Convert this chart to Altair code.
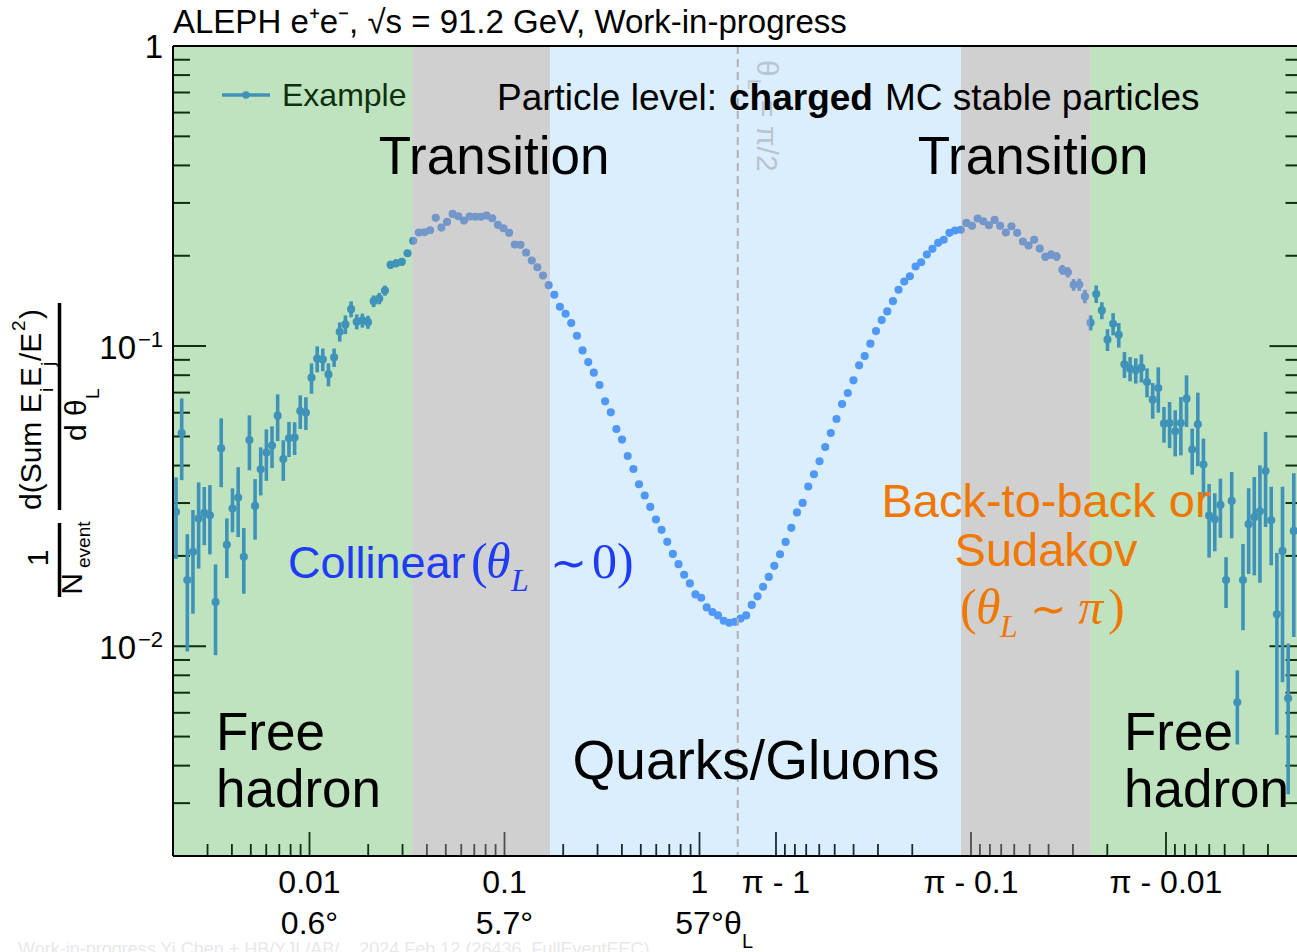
import altair as alt
import numpy as np
import pandas as pd

# ---------------- values ----------------
# centres of the 100 log-spaced angle bins (rad); the right half uses the same
# numbers as (pi - theta)
bin_theta = [
    0.002068, 0.002211, 0.002363, 0.002526, 0.002700, 0.002886, 0.003085, 0.003298, 0.003525, 0.003768,
    0.004028, 0.004307, 0.004603, 0.004920, 0.005259, 0.005621, 0.006009, 0.006424, 0.006866, 0.007339,
    0.007846, 0.008389, 0.008966, 0.009583, 0.01024, 0.01095, 0.01170, 0.01251, 0.01337, 0.01429,
    0.01528, 0.01634, 0.01746, 0.01867, 0.01995, 0.02133, 0.02279, 0.02437, 0.02604, 0.02783,
    0.02976, 0.03183, 0.03401, 0.03637, 0.03886, 0.04155, 0.04439, 0.04747, 0.05072, 0.05421,
    0.05797, 0.06200, 0.06625, 0.07084, 0.07569, 0.08093, 0.08646, 0.09246, 0.09879, 0.1056,
    0.1129, 0.1208, 0.1290, 0.1380, 0.1474, 0.1576, 0.1684, 0.1801, 0.1924, 0.2057,
    0.2199, 0.2353, 0.2513, 0.2688, 0.2871, 0.3070, 0.3280, 0.3508, 0.3748, 0.4006,
    0.4283, 0.4583, 0.4895, 0.5236, 0.5592, 0.5980, 0.6389, 0.6833, 0.7300, 0.7803,
    0.8342, 0.8927, 0.9534, 1.020, 1.089, 1.165, 1.244, 1.331, 1.422, 1.520,
]

# theta side (small angles)
left_y = [
    0.02803, 0.05135, 0.01661, 0.02063, 0.02665, 0.02782, 0.02733, 0.01403, 0.04566, 0.02177,
    0.02877, 0.03130, 0.01986, 0.04867, 0.02935, 0.03888, 0.04418, 0.04662, 0.05866, 0.04207,
    0.04930, 0.04957, 0.06076, 0.06003, 0.07849, 0.09081, 0.09031, 0.08050, 0.09171, 0.1117,
    0.1181, 0.1328, 0.1206, 0.1218, 0.1202, 0.1412, 0.1441, 0.1532, 0.1866, 0.1889,
    0.1909, 0.2039, 0.2243, 0.2390, 0.2396, 0.2432, 0.2675, 0.2483, 0.2594, 0.2758,
    0.2708, 0.2620, 0.2702, 0.2698, 0.2698, 0.2722, 0.2667, 0.2535, 0.2470, 0.2385,
    0.2180, 0.2175, 0.2050, 0.1928, 0.1832, 0.1719, 0.1596, 0.1483, 0.1352, 0.1282,
    0.1193, 0.1083, 0.09676, 0.08848, 0.08156, 0.07418, 0.06546, 0.06017, 0.05294, 0.04882,
    0.04304, 0.03896, 0.03466, 0.03178, 0.02912, 0.02645, 0.02442, 0.02227, 0.02031, 0.01877,
    0.01730, 0.01619, 0.01488, 0.01450, 0.01347, 0.01300, 0.01267, 0.01216, 0.01197, 0.01206,
]
left_err = [
    0.0085, 0.0156, 0.0070, 0.0078, 0.0085, 0.0061, 0.0071, 0.0047, 0.0118, 0.0049,
    0.0048, 0.0082, 0.0049, 0.0101, 0.0067, 0.0071, 0.0086, 0.0074, 0.0104, 0.0065,
    0.0066, 0.0062, 0.0078, 0.0075, 0.0091, 0.0090, 0.0079, 0.0071, 0.0065, 0.0082,
    0.0085, 0.0081, 0.0069, 0.0065, 0.0060, 0.0063, 0.0063, 0.0060, 0.0058, 0.0058,
    0.0058, 0.0050, 0.0045, 0.0045, 0.0045, 0.0045, 0.0045, 0.0045, 0.0042, 0.0042,
    0.0040, 0.0040, 0.0038, 0.0038, 0.0036, 0.0036, 0.0035, 0.0034, 0.0032, 0.0030,
    0.0012, 0.0011, 0.0010, 0.0009, 0.0009, 0.0008, 0.0008, 0.0007, 0.0007, 0.0006,
    0.0005, 0.0005, 0.0004, 0.0004, 0.0004, 0.0003, 0.0003, 0.0003, 0.0003, 0.0002,
    0.0002, 0.0002, 0.0002, 0.0002, 0.0002, 0.0002, 0.0002, 0.0002, 0.0002, 0.0002,
    0.0002, 0.0002, 0.0002, 0.0002, 0.0002, 0.0002, 0.0002, 0.0002, 0.0002, 0.0002,
]

# pi - theta side (back-to-back); first bin lies outside the picture
right_y = [
    None, 0.02423, 0.006709, 0.02078, 0.01277, 0.02630, 0.03837, 0.02817, 0.02692, 0.02551,
    0.01661, 0.006507, 0.03049, 0.01661, 0.02957, 0.02651, 0.02723, 0.04030, 0.05488, 0.04520,
    0.06683, 0.05543, 0.05201, 0.05543, 0.05517, 0.07249, 0.06631, 0.07589, 0.08476, 0.08303,
    0.08412, 0.08693, 0.1091, 0.1187, 0.1051, 0.1315, 0.1492, 0.1197, 0.1464, 0.1603,
    0.1601, 0.1763, 0.1796, 0.1988, 0.2019, 0.1984, 0.2114, 0.2261, 0.2163, 0.2231,
    0.2385, 0.2508, 0.2390, 0.2516, 0.2634, 0.2527, 0.2606, 0.2661, 0.2516, 0.2574,
    0.2441, 0.2427, 0.2385, 0.2261, 0.2209, 0.2109, 0.2019, 0.1903, 0.1842, 0.1710,
    0.1642, 0.1541, 0.1412, 0.1305, 0.1221, 0.1122, 0.1019, 0.09264, 0.08627, 0.07689,
    0.06976, 0.06412, 0.05716, 0.05135, 0.04612, 0.04133, 0.03741, 0.03405, 0.03003, 0.02792,
    0.02480, 0.02226, 0.02026, 0.01853, 0.01702, 0.01578, 0.01466, 0.01373, 0.01267, 0.01236,
]
right_err = [
    None, 0.0135, 0.0035, 0.0132, 0.0077, 0.0077, 0.0134, 0.0119, 0.0097, 0.0081,
    0.0053, 0.0018, 0.0076, 0.0032, 0.0066, 0.0058, 0.0075, 0.0089, 0.0151, 0.0079,
    0.0131, 0.0122, 0.0091, 0.0097, 0.0075, 0.0125, 0.0090, 0.0084, 0.0091, 0.0080,
    0.0078, 0.0086, 0.0102, 0.0101, 0.0088, 0.0086, 0.0100, 0.0069, 0.0075, 0.0075,
    0.0072, 0.0070, 0.0068, 0.0066, 0.0064, 0.0062, 0.0060, 0.0058, 0.0056, 0.0054,
    0.0052, 0.0050, 0.0048, 0.0046, 0.0044, 0.0042, 0.0040, 0.0038, 0.0036, 0.0034,
    0.0012, 0.0011, 0.0010, 0.0009, 0.0009, 0.0008, 0.0008, 0.0007, 0.0007, 0.0006,
    0.0005, 0.0005, 0.0004, 0.0004, 0.0004, 0.0003, 0.0003, 0.0003, 0.0003, 0.0002,
    0.0002, 0.0002, 0.0002, 0.0002, 0.0002, 0.0002, 0.0002, 0.0002, 0.0002, 0.0002,
    0.0002, 0.0002, 0.0002, 0.0002, 0.0002, 0.0002, 0.0002, 0.0002, 0.0002, 0.0002,
]

# axis ticks and labels
y_major = [0.01, 0.1, 1.0]
y_minor = [0.002, 0.003, 0.004, 0.005, 0.006, 0.007, 0.008, 0.009,
           0.02, 0.03, 0.04, 0.05, 0.06, 0.07, 0.08, 0.09,
           0.2, 0.3, 0.4, 0.5, 0.6, 0.7, 0.8, 0.9]
x_major_left = [0.01, 0.1, 1.0]                 # theta
x_minor_left = [0.003, 0.004, 0.005, 0.006, 0.007, 0.008, 0.009,
                0.02, 0.03, 0.04, 0.05, 0.06, 0.07, 0.08, 0.09,
                0.2, 0.3, 0.4, 0.5, 0.6, 0.7, 0.8, 0.9]
x_major_right = [1.0, 0.1, 0.01]                # pi - theta
x_minor_right = [0.9, 0.8, 0.7, 0.6, 0.5, 0.4, 0.3, 0.2,
                 0.09, 0.08, 0.07, 0.06, 0.05, 0.04, 0.03, 0.02,
                 0.009, 0.008, 0.007, 0.006, 0.005, 0.004, 0.003]
x_label_left = ["0.01", "0.1", "1"]
x_label_right = ["π - 1", "π - 0.1", "π - 0.01"]
deg_labels = ["0.6°", "5.7°", "57°"]
y_label_value = [0.1, 0.01]
y_label_exp = ["−1", "−2"]

# shaded regions, edges in theta (rad)
band_region = ["free", "transition", "qg", "transition", "free"]
band_from = [0.002, 0.0336, 0.171, 3.0291, 3.1171]
band_to = [0.0336, 0.171, 3.0291, 3.1171, 3.1396]

# ---------------- layout ----------------
W, H = 1124, 810
OX, OY = 173, 46
HALF = float(np.log10(np.pi / 2))
U_MIN, U_MAX = -2.7, 3.0641
SANS = "Liberation Sans"
SERIF = "Liberation Serif"
POINT = "#4a8ff5"
BLUE_TXT = "#1f3cf5"
ORANGE = "#f07800"

XS = alt.Scale(domain=[U_MIN, U_MAX], nice=False, zero=False)
YS = alt.Scale(type="log", domain=[0.002, 1.0], nice=False)


def pos_left(t):
    return np.log10(np.asarray(t, dtype=float))


def pos_right(d):
    return 2 * HALF - np.log10(np.asarray(d, dtype=float))


def pos_theta(t):
    t = np.asarray(t, dtype=float)
    return np.where(t <= np.pi / 2, np.log10(t), 2 * HALF - np.log10(np.pi - t))


one = pd.DataFrame({"i": [0]})


def text(s, px, py, size, align="left", color="black", font=SANS, angle=None,
         weight="normal", style="normal", baseline="alphabetic"):
    kw = dict(text=s, fontSize=size, align=align, color=color, font=font,
              baseline=baseline, fontWeight=weight, fontStyle=style)
    if angle is not None:
        kw["angle"] = angle
    return alt.Chart(one).mark_text(**kw).encode(x=alt.value(px - OX), y=alt.value(py - OY))


def hrule(x0, x1, py, color="black", width=2):
    return alt.Chart(one).mark_rule(color=color, strokeWidth=width).encode(
        x=alt.value(x0 - OX), x2=alt.value(x1 - OX), y=alt.value(py - OY))


def vrule(px, y0, y1, color="black", width=2):
    return alt.Chart(one).mark_rule(color=color, strokeWidth=width).encode(
        x=alt.value(px - OX), y=alt.value(y0 - OY), y2=alt.value(y1 - OY))


layers = []

# ---- ticks (under the shading) ----
def yticks(vals, x0, x1):
    return alt.Chart(pd.DataFrame({"v": vals})).mark_rule(color="black", strokeWidth=2).encode(
        y=alt.Y("v:Q", scale=YS, axis=None), x=alt.value(x0), x2=alt.value(x1))


def xticks(us, length):
    return alt.Chart(pd.DataFrame({"u": us})).mark_rule(color="black", strokeWidth=1.8).encode(
        x=alt.X("u:Q", scale=XS, axis=None), y=alt.value(H - length), y2=alt.value(H))


layers += [yticks(y_major, 0, 33), yticks(y_minor, 0, 17),
           yticks(y_major, W - 27.5, W), yticks(y_minor, W - 11.5, W)]
layers += [xticks(np.concatenate([pos_left(x_major_left), pos_right(x_major_right)]), 24),
           xticks(np.concatenate([pos_left(x_minor_left), pos_right(x_minor_right)]), 12)]

# ---- legend ----
layers.append(hrule(222, 270, 95, color=POINT, width=3.5))
layers.append(alt.Chart(one).mark_circle(color=POINT, size=55, opacity=1).encode(
    x=alt.value(246 - OX), y=alt.value(95 - OY)))
layers.append(text("Example", 282, 106, 32))

# ---- data ----
left = pd.DataFrame({"u": pos_left(bin_theta), "y": left_y, "err": left_err})
right = pd.DataFrame({"u": pos_right(bin_theta), "y": right_y, "err": right_err}).dropna()
pts = pd.concat([left, right], ignore_index=True)
pts["y"] = pts["y"].astype(float)
pts["err"] = pts["err"].astype(float)
pts["lo"] = np.maximum(pts["y"] - pts["err"], 0.001)
pts["hi"] = pts["y"] + pts["err"]

layers.append(alt.Chart(pts).mark_rule(color=POINT, strokeWidth=3.6, clip=True).encode(
    x=alt.X("u:Q", scale=XS, axis=None),
    y=alt.Y("lo:Q", scale=YS, axis=None), y2="hi:Q"))
layers.append(alt.Chart(pts).mark_circle(color=POINT, size=66, opacity=1, clip=True).encode(
    x=alt.X("u:Q", scale=XS, axis=None),
    y=alt.Y("y:Q", scale=YS, axis=None)))

# ---- translucent regions on top ----
bands = pd.DataFrame({"region": band_region, "u0": pos_theta(band_from), "u1": pos_theta(band_to)})
for region, color, op in [("free", "#2ca02c", 0.30), ("transition", "#a0a0a0", 0.49), ("qg", "#64b4fa", 0.23)]:
    layers.append(alt.Chart(bands).transform_filter(alt.datum.region == region).mark_rect(
        color=color, opacity=op, clip=True).encode(
        x=alt.X("u0:Q", scale=XS, axis=None), x2="u1:Q", y=alt.value(0), y2=alt.value(H)))

# ---- pi/2 line and label ----
layers.append(alt.Chart(pd.DataFrame({"u": [HALF]})).mark_rule(
    color="#b0b0b0", strokeWidth=2, strokeDash=[8, 5]).encode(
    x=alt.X("u:Q", scale=XS, axis=None), y=alt.value(0), y2=alt.value(H)))
PI2 = "#b8c4d0"
layers.append(text("θ", 766, 60, 30, color=PI2, angle=90, baseline="middle"))
layers.append(text("L", 754, 79, 19, color=PI2, angle=90, baseline="middle"))
layers.append(text("= π/2", 766, 100, 30, color=PI2, angle=90, baseline="middle"))

# ---- frame ----
layers += [hrule(OX, OX + W, OY), hrule(OX, OX + W, OY + H), vrule(OX, OY, OY + H)]

# ---- annotations ----
layers += [
    text("ALEPH e⁺e⁻, √s = 91.2 GeV, Work-in-progress", 173, 33, 33),
    text("Particle level:", 497, 110, 37),
    text("charged", 729, 110, 37, weight="bold"),
    text("MC stable particles", 885, 110, 37),
    text("Transition", 494, 174, 53, align="center"),
    text("Transition", 1033, 174, 53, align="center"),
    text("Collinear", 288, 578, 45, color=BLUE_TXT),
    text("(", 471, 578, 50, color=BLUE_TXT, font=SERIF),
    text("θ", 486, 578, 50, color=BLUE_TXT, font=SERIF, style="italic"),
    text("L", 511, 591, 32, color=BLUE_TXT, font=SERIF, style="italic"),
    text("∼", 550, 578, 44, color=BLUE_TXT, font=SERIF),
    text("0)", 592, 578, 50, color=BLUE_TXT, font=SERIF),
    text("Back-to-back or", 1046, 517, 47, align="center", color=ORANGE),
    text("Sudakov", 1046, 566, 47, align="center", color=ORANGE),
    text("(", 960, 624, 50, color=ORANGE, font=SERIF),
    text("θ", 976, 624, 50, color=ORANGE, font=SERIF, style="italic"),
    text("L", 1000, 637, 32, color=ORANGE, font=SERIF, style="italic"),
    text("∼", 1030, 624, 44, color=ORANGE, font=SERIF),
    text("π", 1078, 624, 50, color=ORANGE, font=SERIF, style="italic"),
    text(")", 1108, 624, 50, color=ORANGE, font=SERIF),
    text("Free", 216, 750, 53), text("hadron", 216, 807, 53),
    text("Free", 1124, 750, 53), text("hadron", 1124, 807, 53),
    text("Quarks/Gluons", 756, 779, 55, align="center"),
]

# ---- x axis labels ----
xl = pd.DataFrame({"u": np.concatenate([pos_left([0.01, 0.1, 1.0]), pos_right([1.0, 0.1, 0.01])]),
                   "t": x_label_left + x_label_right})
layers.append(alt.Chart(xl).mark_text(fontSize=32, font=SANS, baseline="alphabetic", align="center").encode(
    x=alt.X("u:Q", scale=XS, axis=None), y=alt.value(893 - OY), text="t:N"))
dl = pd.DataFrame({"u": pos_left([0.01, 0.1, 1.0]), "t": deg_labels})
layers.append(alt.Chart(dl).mark_text(fontSize=32, font=SANS, baseline="alphabetic", align="center").encode(
    x=alt.X("u:Q", scale=XS, axis=None), y=alt.value(934 - OY), text="t:N"))
layers.append(text("θ", 724, 934, 32))
layers.append(text("L", 742, 948, 20))

# ---- y axis labels ----
layers.append(text("1", 163, 58, 33, align="right"))
yl = pd.DataFrame({"v": y_label_value, "e": y_label_exp, "b": ["10", "10"]})
layers.append(alt.Chart(yl).mark_text(fontSize=33, font=SANS, baseline="alphabetic", align="right", dy=13).encode(
    y=alt.Y("v:Q", scale=YS, axis=None), x=alt.value(136 - OX), text="b:N"))
layers.append(alt.Chart(yl).mark_text(fontSize=22, font=SANS, baseline="alphabetic", align="left", dy=1).encode(
    y=alt.Y("v:Q", scale=YS, axis=None), x=alt.value(138 - OX), text="e:N"))

# ---- y axis title (fraction) ----
layers += [
    text("d(Sum E", 32, 510, 30, angle=270, baseline="middle"),
    text("i", 47, 392, 19, angle=270, baseline="middle"),
    text("E", 32, 387, 30, angle=270, baseline="middle"),
    text("j", 48, 366, 19, angle=270, baseline="middle"),
    text("/E", 32, 361, 30, angle=270, baseline="middle"),
    text("2", 19, 331, 19, angle=270, baseline="middle"),
    text(")", 32, 319, 30, angle=270, baseline="middle"),
    vrule(59.5, 303, 510, width=3.5),
    text("d θ", 77, 441, 30, angle=270, baseline="middle"),
    text("L", 93, 399, 19, angle=270, baseline="middle"),
    vrule(59.5, 523, 597, width=3.5),
    text("1", 39, 558, 30, angle=270, baseline="middle", align="center"),
    text("N", 73, 584, 30, angle=270, baseline="middle", align="center"),
    text("event", 84, 568, 19, angle=270, baseline="middle"),
]

# ---- faint footer ----
layers.append(text("Work-in-progress Yi Chen + HB/YJL/AB/... 2024 Feb 12 (26436, FullEventEEC)",
                   18, 955, 18, color="#e8e8e8"))

chart = alt.layer(*layers).properties(
    width=W, height=H,
    padding={"left": OX, "top": OY, "right": 0, "bottom": 952 - OY - H},
    autosize=alt.AutoSizeParams(type="none"),
    background="white",
).configure_view(stroke=None)

chart.save("out.html", embed_options={"renderer": "svg", "actions": False})
